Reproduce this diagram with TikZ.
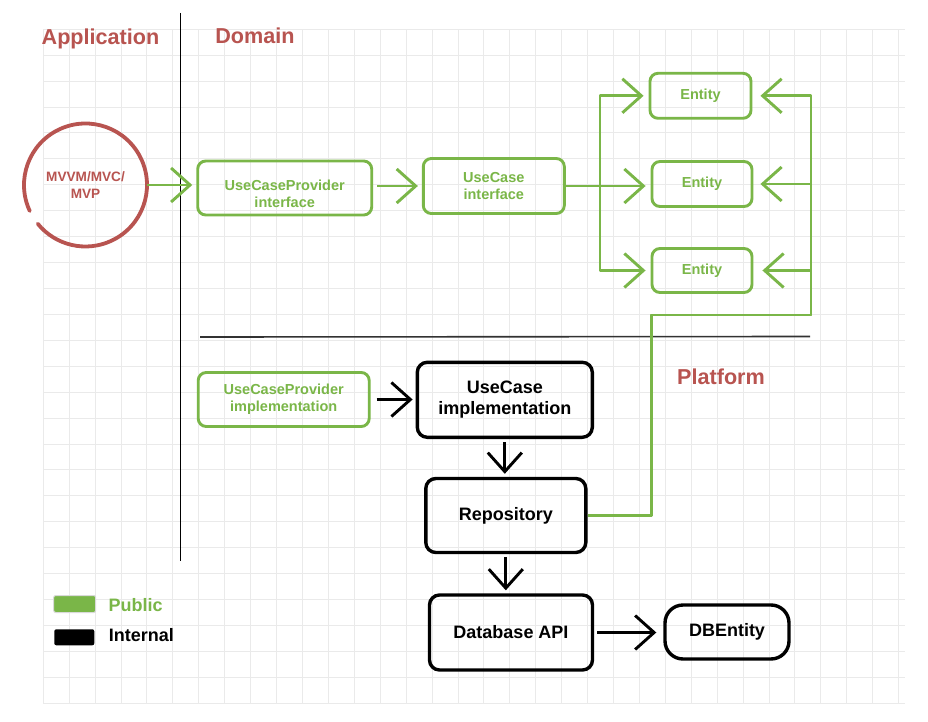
\documentclass[tikz,border=0pt]{standalone}
\usepackage{fontspec}
\setmainfont{Liberation Sans}
\usetikzlibrary{arrows.meta}
\definecolor{pubgreen}{RGB}{122,182,72}
\definecolor{archred}{RGB}{184,84,80}
\definecolor{gridgray}{RGB}{234,234,234}
\definecolor{sepgray}{RGB}{50,50,50}
\begin{document}
\begin{tikzpicture}[x=1pt,y=-1pt,
  gbox/.style={draw=pubgreen, line width=2.9pt, rounded corners=8pt, text=pubgreen, font=\bfseries\fontsize{14.5}{17}\selectfont, align=center, inner sep=0pt},
  kbox/.style={draw=black, line width=3.4pt, rounded corners=10pt, text=black, font=\bfseries\fontsize{18}{21.5}\selectfont, align=center, inner sep=0pt},
  head/.style={text=archred, font=\bfseries\fontsize{21.6}{26}\selectfont, anchor=base, inner sep=0pt},
  legtext/.style={font=\bfseries\fontsize{18}{21.5}\selectfont, anchor=base west, inner sep=0pt},
  garrow/.style={draw=pubgreen, line width=2.9pt, line join=round, -{Straight Barb[length=19pt,width=34pt]}},
  karrow/.style={draw=black, line width=2.9pt, line join=round, -{Straight Barb[length=19pt,width=34pt]}},
  gridline/.style={draw=gridgray, line width=1pt},
]
\useasboundingbox (0,0) rectangle (928,722);
\fill[white] (0,0) rectangle (928,722);
% grid
\foreach \k in {0,...,33} {
  \pgfmathsetmacro\xx{43.3+25.92*\k}
  \draw[gridline] (\xx,29.3) -- (\xx,703.3);
}
\foreach \k in {0,...,26} {
  \pgfmathsetmacro\yy{29.3+25.92*\k}
  \draw[gridline] (43.3,\yy) -- (905,\yy);
}
% separators
\draw[black, line width=1.4pt] (180.5,13) -- (180.5,561);
\draw[sepgray, line width=1.6pt] (200,337) -- (810,336.5);
% headers
\node[head] (happ) at (100.5,44.3) {Application};
\node[head] (hdom) at (255,43.3) {Domain};
\node[head] (hplat) at (721,384) {Platform};
% application
\node[circle, minimum size=123pt, inner sep=0pt, text=archred, font=\bfseries\fontsize{13.6}{16.8}\selectfont, align=center] (mvc) at (85.5,185) {MVVM/MVC/\\MVP};
\draw[archred, line width=3.8pt, line cap=round] (mvc.center) ++(155:61.5) arc[start angle=155, end angle=501, radius=61.5];
% domain
\node[gbox, minimum width=174pt, minimum height=54pt] (ucpi) at (284.7,188) {\rule{0pt}{23pt}UseCaseProvider\\interface};
\node[gbox, minimum width=141pt, minimum height=55pt] (uci) at (493.8,186) {UseCase\\interface};
\node[gbox, minimum width=101pt, minimum height=45pt] (e1) at (700.5,95.8) {Entity};
\node[gbox, minimum width=100pt, minimum height=45pt] (e2) at (702,184) {Entity};
\node[gbox, minimum width=100pt, minimum height=44pt] (e3) at (702,270.5) {Entity};
% platform
\node[gbox, minimum width=171pt, minimum height=54pt] (ucpimpl) at (283.7,399.5) {UseCaseProvider\\implementation};
\node[kbox, minimum width=175pt, minimum height=75pt] (ucimpl) at (504.8,399.8) {UseCase\\implementation};
\node[kbox, minimum width=160pt, minimum height=74pt] (repo) at (505.8,515.5) {Repository};
\node[kbox, minimum width=163pt, minimum height=75pt] (dbapi) at (511,632.5) {Database API};
\node[kbox, minimum width=124pt, minimum height=54pt, rounded corners=18pt] (dbent) at (727,632) {DBEntity};
% connectors (domain)
\draw[garrow, shorten >=4pt] (mvc.east) -- (mvc.east -| ucpi.west);
\draw[garrow, shorten >=4pt, shorten <=4pt] (ucpi.east |- uci.east) -- (uci.west);
\coordinate (bus) at (600,186);
\draw[garrow, shorten >=5pt] (uci.east) -- (bus) |- (e1.west);
\draw[garrow, shorten >=5pt] (uci.east) -- (bus) |- (e3.west);
\draw[garrow, shorten >=5pt] (uci.east) -- (uci.east -| e2.west);
% connectors (repository to entities)
\coordinate (r1) at (651.5,515.5);
\coordinate (r2) at (651.5,315);
\coordinate (r3) at (811,315);
\draw[garrow, shorten >=8pt] (repo.east) -- (r1) -- (r2) -- (r3) |- (e1.east);
\draw[garrow, shorten >=7pt] (repo.east) -- (r1) -- (r2) -- (r3) |- (e2.east);
\draw[garrow, shorten >=9pt] (repo.east) -- (r1) -- (r2) -- (r3) |- (e3.east);
% connectors (platform)
\draw[karrow, shorten >=3pt, shorten <=6pt] (ucpimpl.east) -- (ucimpl.west |- ucpimpl.east);
\draw[karrow, shorten >=3pt, shorten <=3pt] (ucimpl.south) -- (ucimpl.south |- repo.north);
\draw[karrow, shorten >=3pt, shorten <=3pt] (repo.south) -- (repo.south |- dbapi.north);
\draw[karrow, shorten >=7pt, shorten <=3pt] (dbapi.east) -- (dbapi.east -| dbent.west);
% legend
\node[fill=pubgreen, draw=gray!30, line width=1pt, rounded corners=2pt, minimum width=42pt, minimum height=17pt, inner sep=0pt] (legpub) at (74.7,604) {};
\node[fill=black, rounded corners=2pt, minimum width=40pt, minimum height=16pt, inner sep=0pt] (legint) at (74.3,637.3) {};
\node[legtext, text=pubgreen] (legpubtxt) at (108.3,611.5) {Public};
\node[legtext, text=black] (leginttxt) at (108.7,641.5) {Internal};
\end{tikzpicture}
\end{document}
